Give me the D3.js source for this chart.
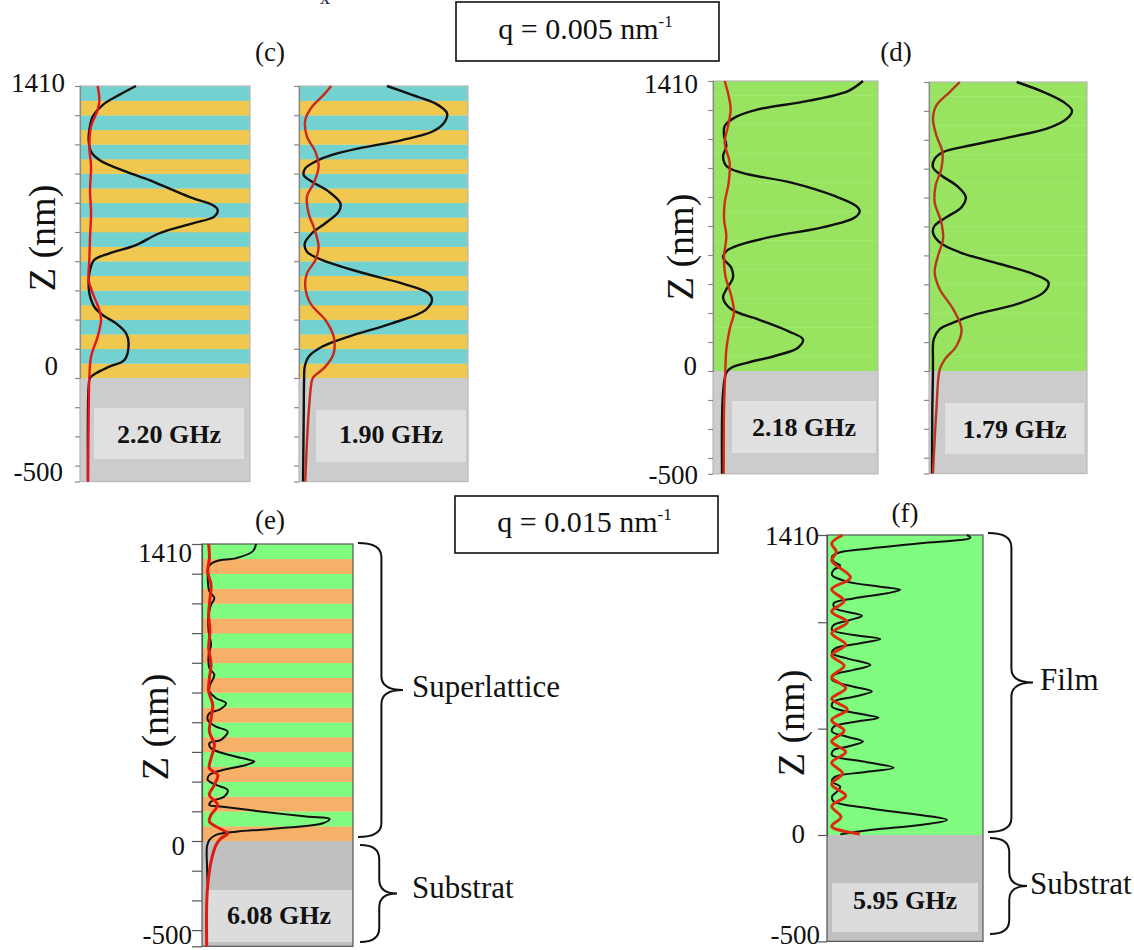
<!DOCTYPE html>
<html><head><meta charset="utf-8">
<script src="https://cdn.jsdelivr.net/npm/d3@7"></script>
<style>
html,body{margin:0;padding:0;background:#fff;}
svg{display:block;}
svg text{font-family:"Liberation Serif","Times New Roman",Times,"Nimbus Roman","DejaVu Serif",serif;fill:#111;}
</style></head><body>
<svg id="chart" width="1134" height="950" font-family="Liberation Serif, Times New Roman, serif"></svg>
<script>
// ---------- data ----------
const zTickLabelValues = [1410, 0, -500];
const zTickLabels = ["1410", "0", "-500"];
const zTicksFine = [-500,-423,-282,-141,0,141,282,423,564,705,846,987,1128,1269,1410];
const zTicksCoarse = [-500,0,500,1000,1410];
const layerBounds = [0,70.5,141,211.5,282,352.5,423,493.5,564,634.5,705,775.5,846,916.5,987,1057.5,1128,1198.5,1269,1339.5,1410];
const freqLabels = ["2.20 GHz","1.90 GHz","2.18 GHz","1.79 GHz","6.08 GHz","5.95 GHz"];
const panelTitles = ["(c)","(d)","(e)","(f)"];
const qValues = ["0.005","0.015"];
const braceLabels = ["Superlattice","Substrat","Film","Substrat"];

const c1BlackZ = [1410,1367,1318,1262,1198,1149,1093,1053,996,956,908,868,835,811,779,747,699,642,602,570,522,473,409,344,304,264,216,167,87,55,23,0,-42,-500];
const c1BlackA = [0.329,0.231,0.133,0.075,0.055,0.051,0.065,0.114,0.271,0.408,0.545,0.663,0.780,0.810,0.790,0.663,0.467,0.329,0.173,0.084,0.059,0.051,0.055,0.084,0.133,0.212,0.271,0.286,0.261,0.173,0.094,0.059,0.051,0.047];
const c1RedZ = [1410,1342,1294,1214,1117,1020,908,795,682,570,473,409,328,280,200,103,6,-171,-500];
const c1RedA = [0.104,0.114,0.104,0.065,0.055,0.065,0.059,0.065,0.059,0.055,0.051,0.075,0.114,0.124,0.104,0.065,0.055,0.051,0.047];

const c2BlackZ = [1410,1367,1326,1278,1230,1189,1149,1109,1077,1045,1012,980,948,900,843,803,747,699,650,610,570,513,457,409,377,328,264,200,151,103,55,-10,-171,-500];
const c2BlackA = [0.521,0.669,0.807,0.876,0.856,0.787,0.609,0.353,0.195,0.097,0.037,0.028,0.077,0.176,0.245,0.235,0.156,0.077,0.034,0.047,0.136,0.353,0.609,0.767,0.787,0.748,0.550,0.294,0.136,0.057,0.034,0.030,0.028,0.024];
const c2RedZ = [1410,1367,1310,1246,1165,1093,1020,940,876,795,715,634,570,505,441,361,280,200,119,55,6,-10,-171,-500];
const c2RedA = [0.191,0.146,0.077,0.037,0.047,0.097,0.116,0.087,0.047,0.057,0.093,0.116,0.097,0.047,0.037,0.067,0.156,0.205,0.205,0.156,0.087,0.077,0.057,0.037];

const d1BlackZ = [1410,1361,1313,1272,1232,1191,1143,1094,1045,997,964,916,851,802,778,746,697,656,616,583,551,502,454,397,357,300,251,194,154,113,73,41,16,-8,-105,-500];
const d1BlackA = [0.909,0.818,0.576,0.273,0.131,0.071,0.067,0.081,0.061,0.081,0.172,0.475,0.737,0.869,0.889,0.859,0.657,0.374,0.172,0.081,0.061,0.111,0.121,0.081,0.061,0.111,0.273,0.455,0.545,0.515,0.374,0.212,0.111,0.081,0.061,0.055];
const d1RedZ = [1410,1337,1272,1191,1110,1013,916,818,737,656,559,462,365,284,203,105,8,-186,-500];
const d1RedA = [0.071,0.095,0.107,0.091,0.071,0.101,0.095,0.071,0.067,0.081,0.067,0.075,0.111,0.127,0.101,0.081,0.075,0.067,0.065];

const d2BlackZ = [1410,1361,1312,1271,1231,1182,1141,1100,1068,1035,994,954,905,848,799,750,709,676,628,579,522,473,432,383,326,277,236,204,155,57,-8,-187,-500];
const d2BlackA = [0.555,0.725,0.852,0.905,0.873,0.746,0.513,0.258,0.089,0.036,0.025,0.078,0.174,0.233,0.206,0.110,0.036,0.025,0.068,0.195,0.449,0.661,0.756,0.725,0.555,0.301,0.153,0.068,0.030,0.025,0.025,0.021,0.019];
const d2RedZ = [1410,1361,1296,1231,1149,1068,986,905,823,725,644,562,481,399,302,204,122,57,8,-187,-500];
const d2RedA = [0.195,0.131,0.047,0.025,0.047,0.085,0.078,0.042,0.036,0.078,0.089,0.057,0.036,0.068,0.153,0.206,0.174,0.100,0.068,0.047,0.025];

const eBlackZ = [1410,1375,1343,1328,1304,1248,1185,1153,1122,1074,995,932,884,821,789,741,710,678,654,623,607,575,543,520,480,464,440,408,385,377,361,337,314,290,266,242,211,187,171,163,139,116,105,84,60,44,29,5,-27,-114,-225];
const eBlackA = [0.358,0.336,0.226,0.093,0.044,0.038,0.049,0.082,0.060,0.044,0.044,0.060,0.044,0.049,0.082,0.053,0.049,0.093,0.159,0.115,0.049,0.038,0.093,0.170,0.126,0.049,0.060,0.181,0.314,0.347,0.292,0.137,0.049,0.038,0.093,0.170,0.148,0.060,0.049,0.137,0.403,0.690,0.845,0.801,0.513,0.226,0.093,0.049,0.033,0.033,0.038];
const eRedZ = [1410,1343,1280,1217,1153,1074,995,916,837,773,710,646,583,520,456,393,345,314,266,219,171,124,92,60,36,13,-19,-98,-209,-304,-500];
const eRedA = [0.044,0.049,0.038,0.060,0.053,0.044,0.053,0.044,0.060,0.049,0.044,0.071,0.060,0.049,0.082,0.060,0.049,0.104,0.082,0.049,0.104,0.060,0.049,0.115,0.170,0.126,0.093,0.060,0.038,0.031,0.031];

const fBlackZ = [1410,1397,1371,1347,1329,1308,1285,1266,1246,1222,1191,1167,1152,1136,1112,1089,1065,1031,1011,987,964,940,921,901,877,854,830,799,776,752,729,697,674,650,627,603,572,551,533,509,486,462,439,415,400,376,345,316,295,274,251,227,204,180,157,125,94,71,47,24,3];
const fBlackA = [0.897,0.919,0.598,0.278,0.085,0.032,0.043,0.085,0.043,0.032,0.128,0.342,0.470,0.385,0.171,0.043,0.053,0.224,0.150,0.043,0.032,0.171,0.342,0.214,0.053,0.032,0.128,0.278,0.171,0.043,0.032,0.171,0.288,0.171,0.043,0.032,0.192,0.331,0.192,0.043,0.032,0.128,0.231,0.128,0.043,0.032,0.235,0.427,0.235,0.053,0.032,0.085,0.064,0.032,0.043,0.278,0.598,0.769,0.598,0.278,0.085];
const fRedZ = [1410,1370,1330,1290,1210,1155,1100,1050,1000,948,895,845,795,742,690,640,590,540,490,440,390,340,290,238,185,135,85,40,5];
const fRedA = [0.10,0.03,0.06,0.03,0.15,0.03,0.11,0.03,0.13,0.03,0.12,0.03,0.11,0.03,0.12,0.03,0.13,0.03,0.11,0.03,0.12,0.03,0.10,0.03,0.12,0.03,0.09,0.03,0.21];

// ---------- layout ----------
const SERIF = '"Liberation Serif","Times New Roman",Times,"Nimbus Roman","DejaVu Serif",serif';
const svg = d3.select("#chart");
svg.append("rect").attr("width",1134).attr("height",950).attr("fill","#fff");

function txt(sel) { return sel.append("text").style("font-family", SERIF); }

const panels = [
  {x0:80, x1:250, yTop:86, yZero:378, layers:["#f0c850","#73d2d0"], sub:"#cccccc",
   box:[94,408,150,51,"#e0e0e0"], textDy:35, freq:0, black:[c1BlackZ,c1BlackA], red:[c1RedZ,c1RedA],
   redColor:"#e8141c", bw:2.4, rw:2.4, ticks:zTicksFine, tickLen:5, tickColor:"#8a8a8a", border:"#b8b8b8",
   labels:{right:[65,58,63], dy:[6,-3,-1]}},
  {x0:299, x1:468, yTop:86, yZero:378, layers:["#f0c850","#73d2d0"], sub:"#cccccc",
   box:[316,410,150,52,"#e0e0e0"], textDy:33, freq:1, black:[c2BlackZ,c2BlackA], red:[c2RedZ,c2RedA],
   redColor:"#c8281e", bw:2.4, rw:2.4, ticks:zTicksFine, tickLen:5, tickColor:"#8a8a8a", border:"#b8b8b8"},
  {x0:713, x1:878, yTop:81, yZero:371, layers:["#98e460"], sub:"#cccccc",
   box:[732,401,144,52,"#e0e0e0"], textDy:35, freq:2, black:[d1BlackZ,d1BlackA], red:[d1RedZ,d1RedA],
   redColor:"#d42a14", bw:2.4, rw:2.4, ticks:zTicksFine, tickLen:5, tickColor:"#8a8a8a", border:"#b8b8b8",
   labels:{right:[698,697,698], dy:[12,4,10]}},
  {x0:929, x1:1087, yTop:82, yZero:371, layers:["#98e460"], sub:"#cccccc",
   box:[945,403,139,51,"#e0e0e0"], textDy:35, freq:3, black:[d2BlackZ,d2BlackA], red:[d2RedZ,d2RedA],
   redColor:"#b8361c", bw:2.4, rw:2.4, ticks:zTicksFine, tickLen:5, tickColor:"#8a8a8a", border:"#b8b8b8"},
  {x0:202, x1:353, yTop:544, yZero:841, layers:["#f6b068","#80fc80"], sub:"#c0c0c0",
   box:[206,890,146,52,"#dcdcdc"], textDy:34, freq:4, black:[eBlackZ,eBlackA], red:[eRedZ,eRedA],
   redColor:"#e01b10", bw:2, rw:3, ticks:zTicksFine, tickLen:10, tickColor:"#555", border:"#555",
   labels:{right:[192,185,192], dy:[18,14,-2]}},
  {x0:827, x1:983, yTop:535, yZero:835, layers:["#80fc80"], sub:"#c0c0c0",
   box:[832,883,146,49,"#dcdcdc"], textDy:26, freq:5, black:[fBlackZ,fBlackA], red:[fRedZ,fRedA],
   redColor:"#dc2c10", bw:2, rw:3, ticks:zTicksCoarse, tickLen:9, tickColor:"#555", border:"#555",
   labels:{right:[819,805,820], dy:[10,8,3]}}
];

panels.forEach(p => {
  const y = d3.scaleLinear().domain([0, 1410]).range([p.yZero, p.yTop]);
  const x = d3.scaleLinear().domain([0, 1]).range([p.x0, p.x1]);
  const g = svg.append("g");
  const w = p.x1 - p.x0;
  const layerIdx = d3.range(layerBounds.length - 1);
  g.selectAll("rect.layer").data(layerIdx).join("rect")
    .attr("class","layer")
    .attr("x", p.x0).attr("width", w)
    .attr("y", i => y(layerBounds[i+1]))
    .attr("height", i => y(layerBounds[i]) - y(layerBounds[i+1]) + 0.3)
    .attr("fill", i => p.layers[i % p.layers.length]);
  g.append("rect").attr("x", p.x0).attr("width", w)
    .attr("y", y(0)).attr("height", y(-500) - y(0)).attr("fill", p.sub);
  g.append("rect").attr("x", p.box[0]).attr("y", p.box[1]).attr("width", p.box[2]).attr("height", p.box[3])
    .attr("fill", p.box[4]);
  g.append("rect").attr("x", p.x0).attr("width", w).attr("y", y(1410)).attr("height", y(-500) - y(1410))
    .attr("fill","none").attr("stroke", p.border).attr("stroke-width", 1.2);
  const axis = d3.axisLeft(y).tickValues(p.ticks).tickSize(p.tickLen).tickFormat("");
  const ag = g.append("g").attr("transform", `translate(${p.x0},0)`).call(axis);
  ag.select(".domain").attr("stroke", p.tickColor).attr("stroke-width", 1.2);
  ag.selectAll(".tick line").attr("stroke", p.tickColor).attr("stroke-width", 1.2);
  const line = d3.line().x(d => x(d[1])).y(d => y(d[0])).curve(d3.curveCatmullRom.alpha(0.5));
  const bData = p.black[0].map((z, i) => [z, p.black[1][i]]);
  const rData = p.red[0].map((z, i) => [z, p.red[1][i]]);
  g.append("path").attr("d", line(bData)).attr("fill","none").attr("stroke","#111").attr("stroke-width", p.bw);
  g.append("path").attr("d", line(rData)).attr("fill","none").attr("stroke", p.redColor).attr("stroke-width", p.rw);
  txt(g).attr("x", p.box[0] + p.box[2]/2).attr("y", p.box[1] + p.textDy)
    .attr("text-anchor","middle").attr("font-weight","bold").attr("font-size", 26)
    .text(freqLabels[p.freq]);
  if (p.labels) {
    zTickLabelValues.forEach((v, i) => {
      txt(g).attr("x", p.labels.right[i]).attr("y", y(v) + p.labels.dy[i])
        .attr("text-anchor","end").attr("font-size", 27).text(zTickLabels[i]);
    });
  }
});

const zTitlePos = [[42,238],[680,247],[155,727],[791,723]];
zTitlePos.forEach(([cx, cy]) => {
  txt(svg).attr("transform", `translate(${cx},${cy}) rotate(-90)`)
    .attr("text-anchor","middle").attr("dominant-baseline","central").attr("font-size", 38)
    .text("Z (nm)");
});

const titlePos = [[270,61],[896,61],[270,529],[905,522]];
titlePos.forEach(([tx, ty], i) => {
  txt(svg).attr("x", tx).attr("y", ty).attr("text-anchor","middle").attr("font-size", 27)
    .text(panelTitles[i]);
});

const qBoxes = [[456,2,263,59],[455,496,263,57]];
qBoxes.forEach((b, i) => {
  svg.append("rect").attr("x", b[0]).attr("y", b[1]).attr("width", b[2]).attr("height", b[3])
    .attr("fill","#fff").attr("stroke","#111").attr("stroke-width", 1.6);
  const t = txt(svg).attr("x", b[0] + b[2]/2 - 2).attr("y", b[1] + b[3]/2 + 7)
    .attr("text-anchor","middle").attr("font-size", 30);
  t.append("tspan").text(`q = ${qValues[i]} nm`);
  t.append("tspan").attr("dy", -12).attr("font-size", 17).text("-1");
});

txt(svg).attr("x", 320).attr("y", 4).attr("font-size", 20).style("fill","#1a2a50").text("x");

function brace(x0, y0, y1, depth) {
  const sx = x0 + depth * 0.52, tx = x0 + depth, ym = (y0 + y1) / 2, r = 14;
  return `M${x0},${y0} Q${sx},${y0} ${sx},${y0 + r} L${sx},${ym - r} Q${sx},${ym} ${tx},${ym} ` +
         `Q${sx},${ym} ${sx},${ym + r} L${sx},${y1 - r} Q${sx},${y1} ${x0},${y1}`;
}
const braces = [
  {x:358, y0:543, y1:837, d:45, tx:412, ty:697},
  {x:360, y0:845, y1:942, d:37, tx:412, ty:898},
  {x:988, y0:533, y1:832, d:45, tx:1040, ty:690},
  {x:990, y0:838, y1:934, d:37, tx:1030, ty:894}
];
braces.forEach((b, i) => {
  svg.append("path").attr("d", brace(b.x, b.y0, b.y1, b.d)).attr("fill","none")
    .attr("stroke","#111").attr("stroke-width", 2);
  txt(svg).attr("x", b.tx).attr("y", b.ty).attr("font-size", 31).text(braceLabels[i]);
});
</script>
</body></html>
